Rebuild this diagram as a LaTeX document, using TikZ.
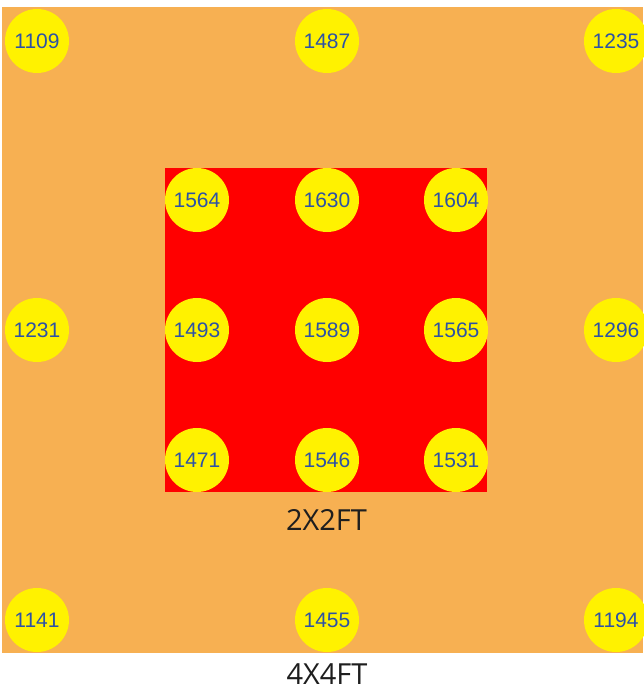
\documentclass[tikz,border=0pt]{standalone}
\usepackage{fontspec}
\newfontfamily\numfont{Liberation Sans}
\newfontfamily\labfont{Open Sans}
\definecolor{board}{RGB}{247,176,82}
\definecolor{valblue}{RGB}{45,82,165}
\definecolor{labgray}{RGB}{30,30,30}
\begin{document}
\begin{tikzpicture}[x=1pt, y=-1pt,
    spot/.style={circle, fill=yellow, minimum size=64pt, inner sep=0pt, text=valblue, font=\numfont\fontsize{21}{21}\selectfont},
    sizelabel/.style={anchor=base, text=labgray, font=\labfont\fontsize{29}{29}\selectfont}]
                \useasboundingbox (0,0) rectangle (643,690);
                \fill[white] (0,0) rectangle (643,690);
                \node[fill=board, minimum width=641pt, minimum height=646pt, inner sep=0pt] (outer) at (322.5,330) {};
                \node[fill=red, minimum width=322pt, minimum height=324pt, inner sep=0pt] (inner) at (326,330) {};
                
                \node[spot] (O1) at (37,41) {1109};
                \node[spot] (O2) at (327,41) {1487};
                \node[spot] (O3) at (616,41) {1235};
                \node[spot] (O4) at (37,330) {1231};
                \node[spot] (O5) at (616,330) {1296};
                \node[spot] (O6) at (37,620) {1141};
                \node[spot] (O7) at (327,620) {1455};
                \node[spot] (O8) at (616,620) {1194};
                
                \node[spot] (I1) at (197,200) {1564};
                \node[spot] (I2) at (327,200) {1630};
                \node[spot] (I3) at (456,200) {1604};
                \node[spot] (I4) at (197,330) {1493};
                \node[spot] (I5) at (327,330) {1589};
                \node[spot] (I6) at (456,330) {1565};
                \node[spot] (I7) at (197,460) {1471};
                \node[spot] (I8) at (327,460) {1546};
                \node[spot] (I9) at (456,460) {1531};
                
                \node[sizelabel] (L1) at (326.5,530) {2X2FT};
                \node[sizelabel] (L2) at (327,684) {4X4FT};
            \end{tikzpicture}
\end{document}
